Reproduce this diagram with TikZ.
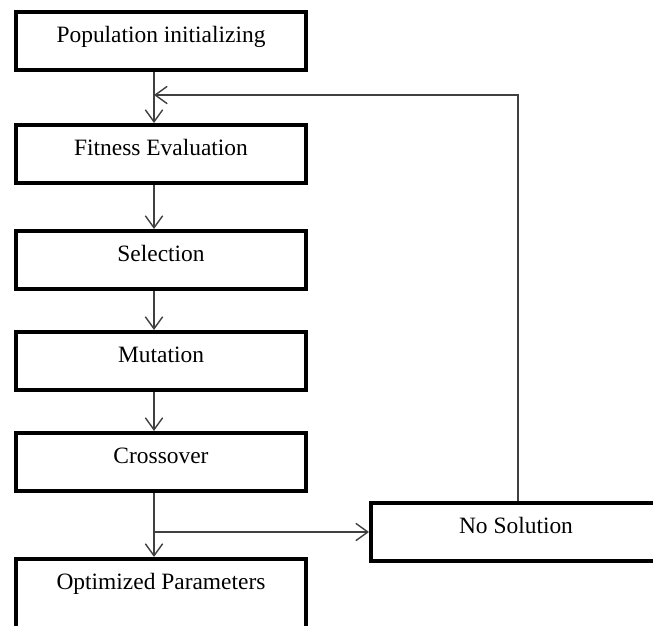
\documentclass[tikz,border=0pt]{standalone}
\usepackage{fontspec}
\setmainfont{Liberation Serif}
\usetikzlibrary{positioning, arrows.meta}
\tikzstyle{stepbox} = [rectangle, draw=black, line width=3.4pt, minimum width=8.7cm, inner xsep=0pt, inner ysep=0.21cm, text height=0.7cm, text depth=0.62cm, text centered, font=\fontsize{20}{22}\selectfont]
\tikzstyle{arrow} = [line width=1.2pt, draw=black!75, -{Straight Barb[length=0.36cm, width=0.52cm]}]

\begin{document}
\begin{tikzpicture}[node distance=1.3cm]
    \useasboundingbox (0,0) rectangle (19.59,-18.75);
    \clip (0,0) rectangle (19.59,-18.75);

    \node (popinit) [stepbox] at (4.83,-1.23) {Population initializing};
    \node (fitness) [stepbox, below=1.53cm of popinit] {Fitness Evaluation};
    \node (select) [stepbox, below=1.32cm of fitness] {Selection};
    \node (mutate) [stepbox, below=1.17cm of select] {Mutation};
    \node (cross) [stepbox, below=1.17cm of mutate] {Crossover};
    \node (optim) [stepbox, below=1.92cm of cross, text depth=1.2cm] {Optimized Parameters};
    \node (nosol) [stepbox] at (15.48,-15.96) {No Solution};

    \coordinate (loopin) at (4.62,-2.85);

    \draw [arrow] ([xshift=-0.21cm]popinit.south) -- ([xshift=-0.21cm]fitness.north);
    \draw [arrow] ([xshift=-0.21cm]fitness.south) -- ([xshift=-0.21cm]select.north);
    \draw [arrow] ([xshift=-0.21cm]select.south) -- ([xshift=-0.21cm]mutate.north);
    \draw [arrow] ([xshift=-0.21cm]mutate.south) -- ([xshift=-0.21cm]cross.north);
    \draw [arrow] ([xshift=-0.21cm]cross.south) -- ([xshift=-0.21cm]optim.north);

    \draw [arrow] (nosol.west -| loopin) -- (nosol.west); % branch to no solution
    \draw [arrow] ([xshift=0.06cm]nosol.north) |- (loopin); % loop back

\end{tikzpicture}
\end{document}
